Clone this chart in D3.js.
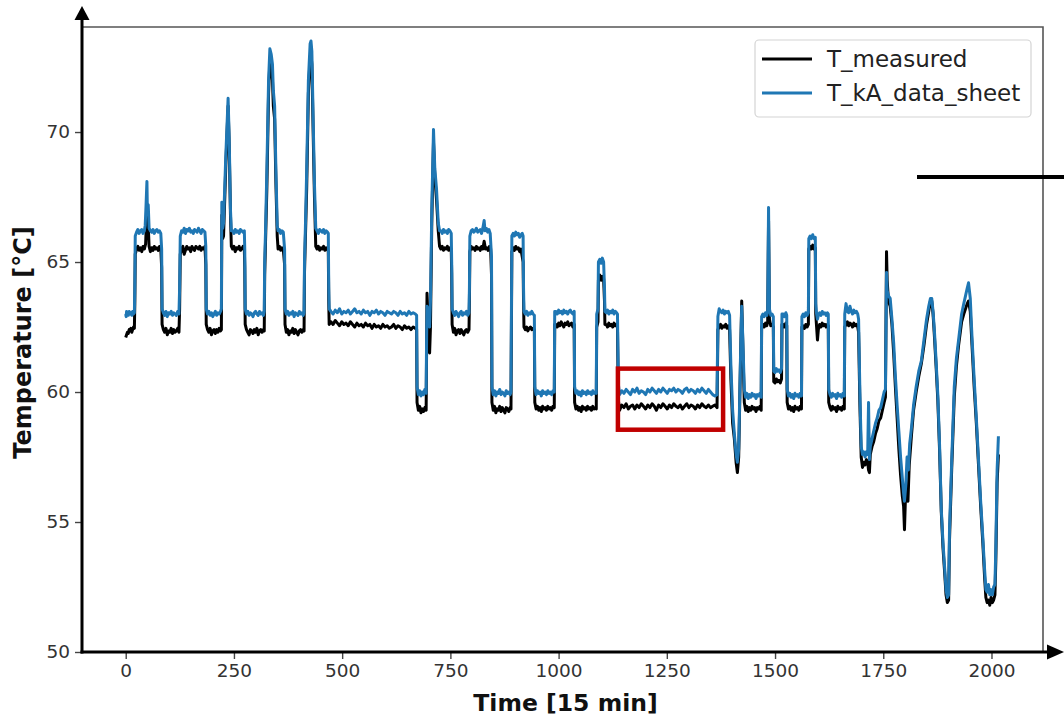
<!DOCTYPE html>
<html>
<head>
<meta charset="utf-8">
<script src="https://cdn.jsdelivr.net/npm/d3@7"></script>
<style>
  html, body { margin: 0; padding: 0; background: #fff; }
  svg { display: block; }
</style>
</head>
<body>
<svg id="chart" width="1064" height="721"></svg>
<script>
// Time steps are in 15-minute units, temperatures in °C.
const seriesNames = ["T_measured", "T_kA_data_sheet"];
const seriesColors = ["#000000", "#1f77b4"];
const xTicks = [0, 250, 500, 750, 1000, 1250, 1500, 1750, 2000];
const yTicks = [50, 55, 60, 65, 70];
// Highlighted interval (time range, temperature range)
const boxTime = [1137, 1380];
const boxTemp = [58.55, 60.9];

const measured = [
  [0,62.1],[2,62.2],[4,62.3],[6,62.25],[8,62.4],[10,62.35],[12,62.45],[14,62.3],[16,62.4],[18,62.5],[20,62.45],
  [21,63.4],[22,65.3],[25,65.5],[28,65.6],[31,65.45],[34,65.55],[37,65.4],[40,65.6],[43,65.5],[46,65.7],[48,66.6],[50,67.2],[52,66.4],[54,65.6],[57,65.4],[60,65.55],[63,65.45],[66,65.6],[69,65.5],[72,65.55],[75,65.45],[78,65.6],[81,65.5],[83,64.8],[84,62.6],
  [87,62.4],[90,62.3],[93,62.45],[96,62.2],[99,62.35],[102,62.3],[105,62.45],[108,62.25],[111,62.4],[114,62.3],[117,62.35],[120,62.45],[123,62.3],[124.5,63.2],[126,65.3],
  [129,65.5],[132,65.6],[135,65.3],[138,65.45],[141,65.6],[144,65.5],[147,65.55],[150,65.4],[153,65.6],[156,65.5],[159,65.45],[162,65.6],[165,65.55],[168,65.5],[171,65.6],[174,65.45],[177,65.55],[180,65.5],[183,65.6],[185,64.9],[186,62.6],
  [189,62.4],[192,62.3],[195,62.45],[198,62.2],[201,62.35],[204,62.4],[207,62.25],[210,62.4],[213,62.3],[216,62.45],[219,62.35],[221,62.4],[222,66.8],[224,65.9],[226,66.0],[231,68.6],[236.5,71.0],[239,69.5],[242,66.8],[244,65.6],
  [247,65.5],[250,65.6],[253,65.4],[256,65.55],[259,65.5],[262,65.6],[265,65.45],[268,65.5],[271,65.6],[274,65.5],[275,64.8],[276,62.6],
  [279,62.4],[282,62.3],[285,62.2],[288,62.4],[291,62.35],[294,62.25],[297,62.4],[300,62.3],[303,62.45],[306,62.2],[309,62.35],[312,62.4],[315,62.3],[318,62.4],[320,62.35],[321,64.5],[323,65.8],[326,67.8],[330,71.5],[333,72.7],[336,72.5],[339,72.0],[341,71.0],[344,70.5],[347,68.0],[350,66.0],[352,65.5],
  [355,65.6],[358,65.45],[361,65.55],[364,65.5],[367,64.9],[368,62.6],
  [371,62.3],[374,62.4],[377,62.2],[380,62.35],[383,62.3],[386,62.45],[389,62.25],[392,62.4],[395,62.3],[398,62.2],[401,62.35],[404,62.4],[407,62.3],[410,62.4],[412,62.35],[413,64.6],[415,65.9],[418,67.8],[422,71.5],[426,72.9],[428,73.0],[430,72.6],[433,70.0],[436,67.5],[439,65.6],
  [442,65.5],[445,65.6],[448,65.45],[451,65.55],[454,65.5],[457,65.6],[460,65.45],[463,65.55],[466,65.5],[468,65.4],[469,63.5],[470,62.6],
  [474,62.7],[479,62.6],[484,62.75],[489,62.65],[494,62.55],[499,62.7],[504,62.6],[509,62.65],[514,62.55],[519,62.7],[524,62.6],[529,62.5],[534,62.65],[539,62.55],[544,62.6],[549,62.5],[554,62.65],[559,62.55],[564,62.6],[569,62.45],[574,62.6],[579,62.5],[584,62.55],[589,62.45],[594,62.6],[599,62.5],[604,62.55],[609,62.45],[614,62.5],[619,62.6],[624,62.45],[629,62.55],[634,62.5],[639,62.4],[644,62.55],[649,62.45],[654,62.5],[659,62.4],[664,62.5],[669,62.45],[672,62.4],[673,59.6],
  [676,59.3],[679,59.45],[682,59.2],[685,59.35],[688,59.25],[691,59.4],[694,59.3],[695,61.5],[696,63.8],[698,63.0],[700,62.0],[702,61.5],[704,62.5],[707,66.5],[711,69.6],[714,68.3],[718,67.4],[722,66.2],[725,65.6],
  [728,65.5],[731,65.6],[734,65.45],[737,65.55],[740,65.5],[743,65.6],[746,65.45],[749,65.55],[752,65.5],[753,64.6],[754,62.6],
  [757,62.3],[760,62.45],[763,62.2],[766,62.35],[769,62.4],[772,62.25],[775,62.4],[778,62.3],[781,62.2],[784,62.35],[787,62.4],[790,62.3],[793,62.4],[794,63.5],[795,65.4],
  [798,65.6],[801,65.5],[804,65.55],[807,65.45],[810,65.6],[813,65.5],[816,65.55],[819,65.45],[822,65.6],[825,65.5],[828,65.8],[831,65.5],[834,65.55],[837,65.45],[840,65.6],[843,65.5],[845,64.5],[846,59.6],
  [849,59.3],[852,59.45],[855,59.2],[858,59.35],[861,59.3],[864,59.45],[867,59.25],[870,59.4],[873,59.3],[876,59.2],[879,59.4],[882,59.35],[885,59.25],[888,59.4],[890,59.35],[891,62.5],[892,65.4],
  [895,65.55],[898,65.45],[901,65.6],[904,65.5],[907,65.55],[910,65.4],[913,65.5],[916,65.2],[918,65.0],[919,63.5],[920,62.5],
  [923,62.4],[926,62.5],[929,62.35],[932,62.45],[935,62.5],[938,62.4],[941,62.45],[944,62.4],[945,59.6],
  [948,59.35],[951,59.45],[954,59.3],[957,59.4],[960,59.25],[963,59.45],[966,59.35],[969,59.4],[972,59.3],[975,59.45],[978,59.35],[981,59.4],[984,59.3],[987,59.45],[990,59.4],[991,62.6],
  [994,62.6],[997,62.5],[1000,62.65],[1003,62.55],[1006,62.7],[1009,62.6],[1012,62.5],[1015,62.65],[1018,62.6],[1021,62.7],[1024,62.55],[1027,62.6],[1030,62.65],[1033,62.5],[1036,62.6],[1037,59.6],
  [1040,59.35],[1043,59.45],[1046,59.3],[1049,59.4],[1052,59.25],[1055,59.45],[1058,59.35],[1061,59.4],[1064,59.3],[1067,59.45],[1070,59.35],[1073,59.4],[1076,59.3],[1079,59.45],[1082,59.35],[1085,59.4],[1087,59.35],[1088,62.5],[1091,62.7],[1092,64.3],[1095,64.5],[1098,64.3],[1101,64.45],[1104,64.35],[1106,63.5],[1107,62.6],
  [1110,62.6],[1113,62.5],[1116,62.65],[1119,62.55],[1122,62.6],[1125,62.5],[1128,62.65],[1131,62.55],[1134,62.6],[1136,62.5],[1138,59.7],
  [1141,59.3],[1146,59.5],[1151,59.4],[1156,59.55],[1161,59.35],[1166,59.45],[1171,59.5],[1176,59.35],[1181,59.5],[1186,59.4],[1191,59.55],[1196,59.45],[1201,59.35],[1206,59.5],[1211,59.4],[1216,59.55],[1221,59.45],[1226,59.3],[1231,59.5],[1236,59.4],[1241,59.55],[1246,59.45],[1251,59.35],[1256,59.5],[1261,59.4],[1266,59.55],[1271,59.45],[1276,59.4],[1281,59.5],[1286,59.35],[1291,59.45],[1296,59.55],[1301,59.4],[1306,59.5],[1311,59.45],[1316,59.35],[1321,59.5],[1326,59.4],[1331,59.55],[1336,59.45],[1341,59.4],[1346,59.5],[1351,59.4],[1356,59.45],[1361,59.5],[1366,59.4],[1368,62.4],
  [1371,62.5],[1374,62.6],[1377,62.45],[1380,62.55],[1383,62.5],[1386,62.6],[1389,62.45],[1392,62.55],[1395,62.4],[1398,60.5],[1402,58.8],[1406,58.2],[1410,57.3],[1413,56.9],[1416,57.5],[1420,61.0],[1423,63.5],[1426,61.5],[1429,59.6],
  [1432,59.3],[1435,59.45],[1438,59.25],[1441,59.4],[1444,59.3],[1447,59.45],[1450,59.35],[1453,59.4],[1456,59.25],[1459,59.4],[1462,59.35],[1465,59.45],[1468,59.3],[1469,62.5],
  [1472,62.6],[1475,62.5],[1478,62.65],[1481,62.55],[1483,62.7],[1485,66.6],[1487,62.8],[1490,62.55],[1493,62.6],[1496,62.5],[1497,60.4],
  [1500,60.35],[1503,60.5],[1506,60.4],[1509,60.45],[1512,60.35],[1515,60.5],[1516,62.6],
  [1519,62.6],[1522,62.5],[1525,62.65],[1527,62.55],[1528,59.6],
  [1531,59.35],[1534,59.45],[1537,59.3],[1540,59.4],[1543,59.25],[1546,59.45],[1549,59.35],[1552,59.4],[1555,59.3],[1558,59.45],[1561,59.35],[1562,62.5],
  [1565,62.55],[1568,62.45],[1571,62.6],[1574,62.5],[1577,62.6],[1578,65.5],[1581,65.6],[1584,65.5],[1587,65.65],[1590,65.5],[1593,65.55],[1594,63.0],[1596,62.5],[1598,62.0],[1600,62.4],
  [1603,62.6],[1606,62.5],[1609,62.65],[1612,62.55],[1615,62.6],[1618,62.5],[1621,62.6],[1623,62.55],[1624,59.6],
  [1627,59.4],[1630,59.3],[1633,59.45],[1636,59.35],[1639,59.4],[1642,59.25],[1645,59.45],[1648,59.35],[1651,59.4],[1654,59.3],[1657,59.45],[1660,59.35],[1661,62.5],
  [1664,62.6],[1667,62.7],[1670,62.55],[1673,62.65],[1676,62.6],[1679,62.5],[1682,62.65],[1685,62.55],[1688,62.6],[1691,62.5],[1693,62.3],[1696,59.5],[1699,57.5],[1702,57.1],[1705,57.3],[1708,57.2],[1711,57.4],[1714,57.3],[1716,57.0],[1718,56.9],[1720,57.6],
  [1724,57.9],[1728,58.1],[1732,58.4],[1736,58.6],[1740,58.9],[1744,59.0],[1748,59.3],[1752,59.6],[1755,59.8],[1757.5,65.4],[1759,64.3],[1762,63.5],[1766,63.3],
  [1770,62.6],[1774,61.5],[1778,60.2],[1782,59.0],[1786,57.8],[1790,56.8],[1794,56.0],[1797,55.6],[1799,54.7],[1801,55.8],[1804,56.2],[1807,55.8],[1810,57.2],[1815,58.3],
  [1820,59.3],[1826,60.0],[1832,60.6],[1838,61.1],[1844,61.8],[1850,62.6],[1855,63.1],[1859,63.5],[1862,63.5],[1865,63.0],[1868,62.2],[1872,61.0],[1876,59.7],[1880,57.8],[1884,55.4],[1888,54.0],[1892,53.0],[1895,52.2],[1898,51.9],[1901,52.0],
  [1903,54.3],[1908,57.0],[1914,59.8],[1919,61.0],[1924,61.8],[1931,62.7],[1936,63.0],[1940,63.2],[1944,63.4],[1947,63.5],[1951,63.1],[1955,61.8],[1960,60.2],[1965,58.8],[1970,57.2],[1975,55.6],[1980,54.2],[1984,52.9],[1987,52.1],[1990,51.9],[1993,52.0],[1996,51.8],[1999,52.1],[2002,51.9],[2005,52.0],[2008,52.2],[2010,53.5],[2013,56.5],[2016,57.6]
];

const dataSheet = [
  [0,63.0],[1,62.9],[2,63.1],[4,63.05],[6,62.95],[8,63.1],[10,63.0],[12,63.05],[14,62.95],[16,63.1],[18,63.0],[20,63.05],
  [21,64.0],[22,66.0],[25,66.15],[28,66.25],[31,66.1],[34,66.2],[37,66.25],[40,66.1],[43,66.2],[45,66.4],[47,67.2],[49,68.1],[50,67.0],[52,67.2],[54,66.3],[57,66.2],[60,66.15],[63,66.25],[66,66.1],[69,66.2],[72,66.25],[75,66.15],[78,66.2],[81,66.1],[83,65.5],[84,63.2],
  [87,63.05],[90,62.95],[93,63.1],[96,62.9],[99,63.05],[102,63.0],[105,63.1],[108,62.95],[111,63.05],[114,63.0],[117,62.95],[120,63.1],[123,63.0],[124.5,64.0],[126,66.0],
  [129,66.2],[132,66.15],[135,66.3],[138,66.1],[141,66.25],[144,66.2],[147,66.3],[150,66.15],[153,66.2],[156,66.1],[159,66.25],[162,66.2],[165,66.15],[168,66.3],[171,66.2],[174,66.1],[177,66.25],[180,66.2],[183,66.15],[185,65.6],[186,63.2],
  [189,63.0],[192,63.1],[195,62.95],[198,63.05],[201,62.9],[204,63.0],[207,63.1],[210,62.95],[213,63.05],[216,63.0],[219,63.1],[221,63.2],[222,67.3],[224,66.3],[226,66.5],[231,69.0],[236.5,71.3],[239,69.8],[242,67.0],[244,66.2],
  [247,66.2],[250,66.1],[253,66.25],[256,66.15],[259,66.2],[262,66.1],[265,66.25],[268,66.2],[271,66.15],[274,66.2],[275,65.5],[276,63.2],
  [279,63.0],[282,63.1],[285,62.95],[288,63.05],[291,63.0],[294,62.9],[297,63.05],[300,63.1],[303,63.0],[306,62.95],[309,63.1],[312,63.0],[315,63.05],[318,62.95],[320,63.1],[321,65.0],[323,66.2],[326,68.5],[330,72.0],[333,73.2],[336,73.0],[339,72.6],[341,71.6],[344,71.0],[347,68.5],[350,66.4],[352,66.2],
  [355,66.25],[358,66.1],[361,66.2],[364,66.15],[367,65.5],[368,63.2],
  [371,63.0],[374,63.1],[377,62.95],[380,63.05],[383,63.0],[386,63.1],[389,62.9],[392,63.05],[395,63.0],[398,62.95],[401,63.1],[404,63.0],[407,63.05],[410,62.95],[412,63.05],[413,65.0],[415,66.3],[418,68.5],[422,72.0],[426,73.4],[428,73.5],[430,73.1],[433,70.5],[436,68.0],[439,66.3],
  [442,66.2],[445,66.1],[448,66.25],[451,66.2],[454,66.15],[457,66.25],[460,66.1],[463,66.2],[466,66.15],[468,66.1],[469,64.0],[470,63.2],
  [474,63.1],[479,63.0],[484,63.15],[489,63.05],[494,63.2],[499,63.0],[504,63.1],[509,63.05],[514,63.15],[519,63.0],[524,63.1],[529,63.2],[534,63.05],[539,63.1],[544,63.0],[549,63.15],[554,63.05],[559,63.1],[564,62.95],[569,63.1],[574,63.05],[579,63.15],[584,63.0],[589,63.1],[594,63.05],[599,62.95],[604,63.1],[609,63.05],[614,63.0],[619,63.1],[624,63.05],[629,62.95],[634,63.1],[639,63.0],[644,63.05],[649,62.95],[654,63.1],[659,63.0],[664,63.05],[669,63.0],[672,62.95],[673,60.2],
  [676,59.9],[679,60.05],[682,59.85],[685,60.0],[688,59.9],[691,60.1],[694,59.95],[695,62.0],[696,63.3],[698,63.2],[700,62.7],[702,62.5],[704,63.5],[707,67.0],[711,70.1],[714,68.6],[718,67.8],[722,66.5],[725,66.2],
  [728,66.2],[731,66.1],[734,66.25],[737,66.15],[740,66.2],[743,66.1],[746,66.25],[749,66.2],[752,66.1],[753,65.0],[754,63.2],
  [757,63.05],[760,62.95],[763,63.1],[766,63.0],[769,62.9],[772,63.05],[775,63.1],[778,62.95],[781,63.05],[784,63.0],[787,63.1],[790,62.95],[793,63.05],[794,64.0],[795,66.0],
  [798,66.2],[801,66.25],[804,66.15],[807,66.2],[810,66.3],[813,66.15],[816,66.2],[819,66.25],[822,66.1],[825,66.3],[828,66.6],[830,66.2],[833,66.3],[836,66.15],[839,66.25],[842,66.1],[845,65.2],[846,60.2],
  [849,59.9],[852,60.05],[855,59.85],[858,60.0],[861,59.95],[864,60.1],[867,59.9],[870,60.0],[873,59.95],[876,59.85],[879,60.05],[882,59.95],[885,60.0],[888,59.9],[890,60.0],[891,63.0],[892,66.0],
  [895,66.1],[898,66.0],[901,66.15],[904,66.05],[907,66.1],[910,65.95],[913,66.05],[916,66.1],[918,66.0],[919,64.0],[920,63.1],
  [923,63.0],[926,63.1],[929,62.95],[932,63.05],[935,63.0],[938,63.1],[941,63.0],[944,62.95],[945,60.2],
  [948,59.9],[951,60.05],[954,59.95],[957,60.0],[960,59.85],[963,60.05],[966,59.95],[969,60.0],[972,59.9],[975,60.05],[978,59.95],[981,60.0],[984,59.9],[987,60.05],[990,60.0],[991,63.1],
  [994,63.1],[997,63.0],[1000,63.15],[1003,63.05],[1006,63.1],[1009,63.0],[1012,63.15],[1015,63.05],[1018,63.1],[1021,63.0],[1024,63.1],[1027,63.15],[1030,63.05],[1033,63.0],[1036,63.1],[1037,60.2],
  [1040,59.95],[1043,60.05],[1046,59.9],[1049,60.0],[1052,59.85],[1055,60.05],[1058,59.95],[1061,60.0],[1064,59.9],[1067,60.05],[1070,59.95],[1073,60.0],[1076,59.9],[1079,60.05],[1082,59.95],[1085,60.0],[1087,59.95],[1088,63.0],[1091,63.2],[1092,65.0],[1095,65.1],[1098,64.95],[1101,65.15],[1104,65.0],[1106,64.0],[1107,63.1],
  [1110,63.05],[1113,63.15],[1116,63.0],[1119,63.1],[1122,63.05],[1125,63.15],[1128,63.0],[1131,63.1],[1134,63.05],[1136,63.0],[1138,60.3],
  [1141,59.9],[1146,60.05],[1151,59.95],[1156,60.1],[1161,60.0],[1166,59.9],[1171,60.1],[1176,60.0],[1181,60.15],[1186,59.95],[1191,60.05],[1196,60.0],[1201,59.9],[1206,60.1],[1211,60.0],[1216,60.15],[1221,60.05],[1226,59.95],[1231,60.1],[1236,60.0],[1241,60.15],[1246,60.05],[1251,59.95],[1256,60.1],[1261,60.05],[1266,60.15],[1271,60.0],[1276,60.1],[1281,60.05],[1286,59.95],[1291,60.1],[1296,60.15],[1301,60.0],[1306,60.1],[1311,60.05],[1316,59.95],[1321,60.1],[1326,60.0],[1331,60.15],[1336,60.05],[1341,59.95],[1346,60.1],[1351,60.0],[1356,59.9],[1361,59.85],[1366,59.9],[1368,62.9],
  [1371,63.2],[1374,63.1],[1377,63.05],[1380,63.15],[1383,63.0],[1386,63.1],[1389,63.05],[1392,63.1],[1395,62.95],[1398,61.0],[1402,59.3],[1406,58.4],[1410,57.6],[1413,57.3],[1416,57.8],[1420,61.2],[1423,63.3],[1426,61.8],[1429,60.1],
  [1432,59.8],[1435,59.95],[1438,59.75],[1441,59.9],[1444,59.8],[1447,59.95],[1450,59.85],[1453,59.9],[1456,59.75],[1459,59.9],[1462,59.85],[1465,59.95],[1468,59.8],[1469,62.9],
  [1472,63.0],[1475,62.9],[1478,63.05],[1481,62.95],[1483,63.1],[1485,67.1],[1487,63.2],[1490,62.95],[1493,63.0],[1496,62.9],[1497,60.8],
  [1500,60.75],[1503,60.9],[1506,60.8],[1509,60.85],[1512,60.75],[1515,60.9],[1516,63.0],
  [1519,63.0],[1522,62.9],[1525,63.05],[1527,62.95],[1528,60.1],
  [1531,59.85],[1534,59.95],[1537,59.8],[1540,59.9],[1543,59.75],[1546,59.95],[1549,59.85],[1552,59.9],[1555,59.8],[1558,59.95],[1561,59.85],[1562,62.9],
  [1565,63.0],[1568,62.9],[1571,63.05],[1574,62.95],[1577,63.05],[1578,65.9],[1581,66.0],[1584,65.9],[1587,66.05],[1590,65.9],[1593,65.95],[1594,63.4],[1596,63.0],[1598,62.8],[1600,62.95],
  [1603,63.05],[1606,62.95],[1609,63.1],[1612,63.0],[1615,63.05],[1618,62.95],[1621,63.05],[1623,63.0],[1624,60.1],
  [1627,59.9],[1630,59.8],[1633,59.95],[1636,59.85],[1639,59.9],[1642,59.75],[1645,59.95],[1648,59.85],[1651,59.9],[1654,59.8],[1657,59.95],[1660,59.85],[1661,63.0],
  [1664,63.4],[1667,63.1],[1670,63.05],[1673,63.3],[1676,63.1],[1679,63.0],[1682,63.15],[1685,63.05],[1688,63.1],[1691,63.0],[1693,62.8],[1696,60.0],[1699,57.9],[1702,57.6],[1705,57.7],[1708,57.5],[1711,57.7],[1714,57.6],[1716,59.6],[1718,57.4],[1720,57.9],
  [1724,58.2],[1728,58.5],[1732,58.8],[1736,59.0],[1740,59.3],[1744,59.4],[1748,59.7],[1752,60.0],[1755,60.1],[1757.5,64.6],[1759,63.9],[1762,63.7],[1766,63.6],
  [1770,62.8],[1774,61.9],[1778,60.6],[1782,59.5],[1786,58.5],[1790,57.5],[1794,56.7],[1797,56.1],[1799,55.8],[1802,56.4],[1805,57.5],[1808,57.0],[1811,58.0],[1815,58.6],
  [1820,59.5],[1826,60.2],[1832,60.8],[1838,61.2],[1844,62.0],[1850,62.8],[1855,63.3],[1859,63.6],[1862,63.6],[1865,63.1],[1868,62.4],[1872,61.2],[1876,59.9],[1880,58.0],[1884,55.5],[1888,54.2],[1892,53.2],[1895,52.4],[1898,52.1],[1901,52.2],
  [1903,54.7],[1908,57.3],[1914,60.2],[1919,61.3],[1924,62.0],[1931,63.0],[1936,63.4],[1940,63.7],[1944,64.0],[1947,64.2],[1951,63.6],[1955,62.1],[1960,60.5],[1965,59.0],[1970,57.4],[1975,55.8],[1980,54.4],[1984,53.2],[1987,52.4],[1990,52.3],[1993,52.6],[1996,52.2],[1999,52.4],[2002,52.2],[2005,52.5],[2008,52.6],[2010,54.0],[2013,57.0],[2016,58.3]
];

const svg = d3.select("#chart");
const W = 1064, H = 721;
const plot = { left: 82, right: 1043, top: 27, bottom: 652 };

svg.append("rect").attr("width", W).attr("height", H).attr("fill", "#fff");

const x = d3.scaleLinear().domain([-101, 2119]).range([plot.left, plot.right]);
const y = d3.scaleLinear().domain([50, 74.04]).range([plot.bottom, plot.top]);

// Frame (top and right edges)
svg.append("path")
  .attr("d", `M${plot.left},${plot.top}H${plot.right}V${plot.bottom}`)
  .attr("fill", "none").attr("stroke", "#555").attr("stroke-width", 1.6);

// Series lines
const line = d3.line().x(d => x(d[0])).y(d => y(d[1]));
svg.append("clipPath").attr("id", "plotClip")
  .append("rect").attr("x", plot.left).attr("y", plot.top)
  .attr("width", plot.right - plot.left).attr("height", plot.bottom - plot.top);

const lines = svg.append("g").attr("clip-path", "url(#plotClip)");
[measured, dataSheet].forEach((s, i) => {
  lines.append("path")
    .datum(s)
    .attr("d", line)
    .attr("fill", "none")
    .attr("stroke", seriesColors[i])
    .attr("stroke-width", 3)
    .attr("stroke-linejoin", "round");
});

// Highlight box
svg.append("rect")
  .attr("x", x(boxTime[0])).attr("y", y(boxTemp[1]))
  .attr("width", x(boxTime[1]) - x(boxTime[0]))
  .attr("height", y(boxTemp[0]) - y(boxTemp[1]))
  .attr("fill", "none").attr("stroke", "#c00000").attr("stroke-width", 4.5);

// Axes
const xAxis = d3.axisBottom(x).tickValues(xTicks).tickSize(7).tickPadding(5).tickFormat(d3.format("d"));
const yAxis = d3.axisLeft(y).tickValues(yTicks).tickSize(7).tickPadding(5).tickFormat(d3.format("d"));

const gx = svg.append("g").attr("transform", `translate(0,${plot.bottom})`).call(xAxis);
const gy = svg.append("g").attr("transform", `translate(${plot.left},0)`).call(yAxis);
[gx, gy].forEach(g => {
  g.select(".domain").remove();
  g.selectAll(".tick line").attr("stroke", "#444").attr("stroke-width", 1.4);
  g.selectAll(".tick text")
    .attr("fill", "#333")
    .style("font-family", "'DejaVu Sans', sans-serif")
    .style("font-size", "18.5px");
});

// Arrowed axis lines
svg.append("line").attr("x1", plot.left).attr("x2", plot.left)
  .attr("y1", plot.bottom + 1.5).attr("y2", 16)
  .attr("stroke", "#000").attr("stroke-width", 3);
svg.append("path").attr("d", `M${plot.left},6 L${plot.left - 7.5},20 L${plot.left + 7.5},20 Z`).attr("fill", "#000");
svg.append("line").attr("x1", plot.left - 1.5).attr("x2", 1054)
  .attr("y1", plot.bottom).attr("y2", plot.bottom)
  .attr("stroke", "#000").attr("stroke-width", 3);
svg.append("path").attr("d", `M1064,${plot.bottom} L1047,${plot.bottom - 7.5} L1047,${plot.bottom + 7.5} Z`).attr("fill", "#000");

// Pointer line on the right
svg.append("line").attr("x1", 917).attr("x2", 1064).attr("y1", 177).attr("y2", 177)
  .attr("stroke", "#000").attr("stroke-width", 4);

// Axis titles
svg.append("text")
  .attr("x", (plot.left + plot.right) / 2 + 3).attr("y", 711)
  .attr("text-anchor", "middle")
  .style("font-family", "'DejaVu Sans', sans-serif").style("font-weight", "bold").style("font-size", "23.5px")
  .attr("fill", "#111")
  .text("Time [15 min]");
svg.append("text")
  .attr("transform", `translate(31,${(plot.top + plot.bottom) / 2 + 3}) rotate(-90)`)
  .attr("text-anchor", "middle")
  .style("font-family", "'DejaVu Sans', sans-serif").style("font-weight", "bold").style("font-size", "24px")
  .attr("fill", "#111")
  .text("Temperature [°C]");

// Legend
const lg = svg.append("g");
lg.append("rect").attr("x", 755).attr("y", 40).attr("width", 276).attr("height", 77).attr("rx", 4)
  .attr("fill", "#fff").attr("stroke", "#d4d4d4").attr("stroke-width", 1.2);
seriesNames.forEach((name, i) => {
  const yy = 59 + i * 34;
  lg.append("line").attr("x1", 762).attr("x2", 812).attr("y1", yy).attr("y2", yy)
    .attr("stroke", seriesColors[i]).attr("stroke-width", 3);
  lg.append("text").attr("x", 827).attr("y", yy + 8)
    .style("font-family", "'DejaVu Sans', sans-serif").style("font-size", "23px")
    .attr("fill", "#222").text(name);
});
</script>
</body>
</html>
